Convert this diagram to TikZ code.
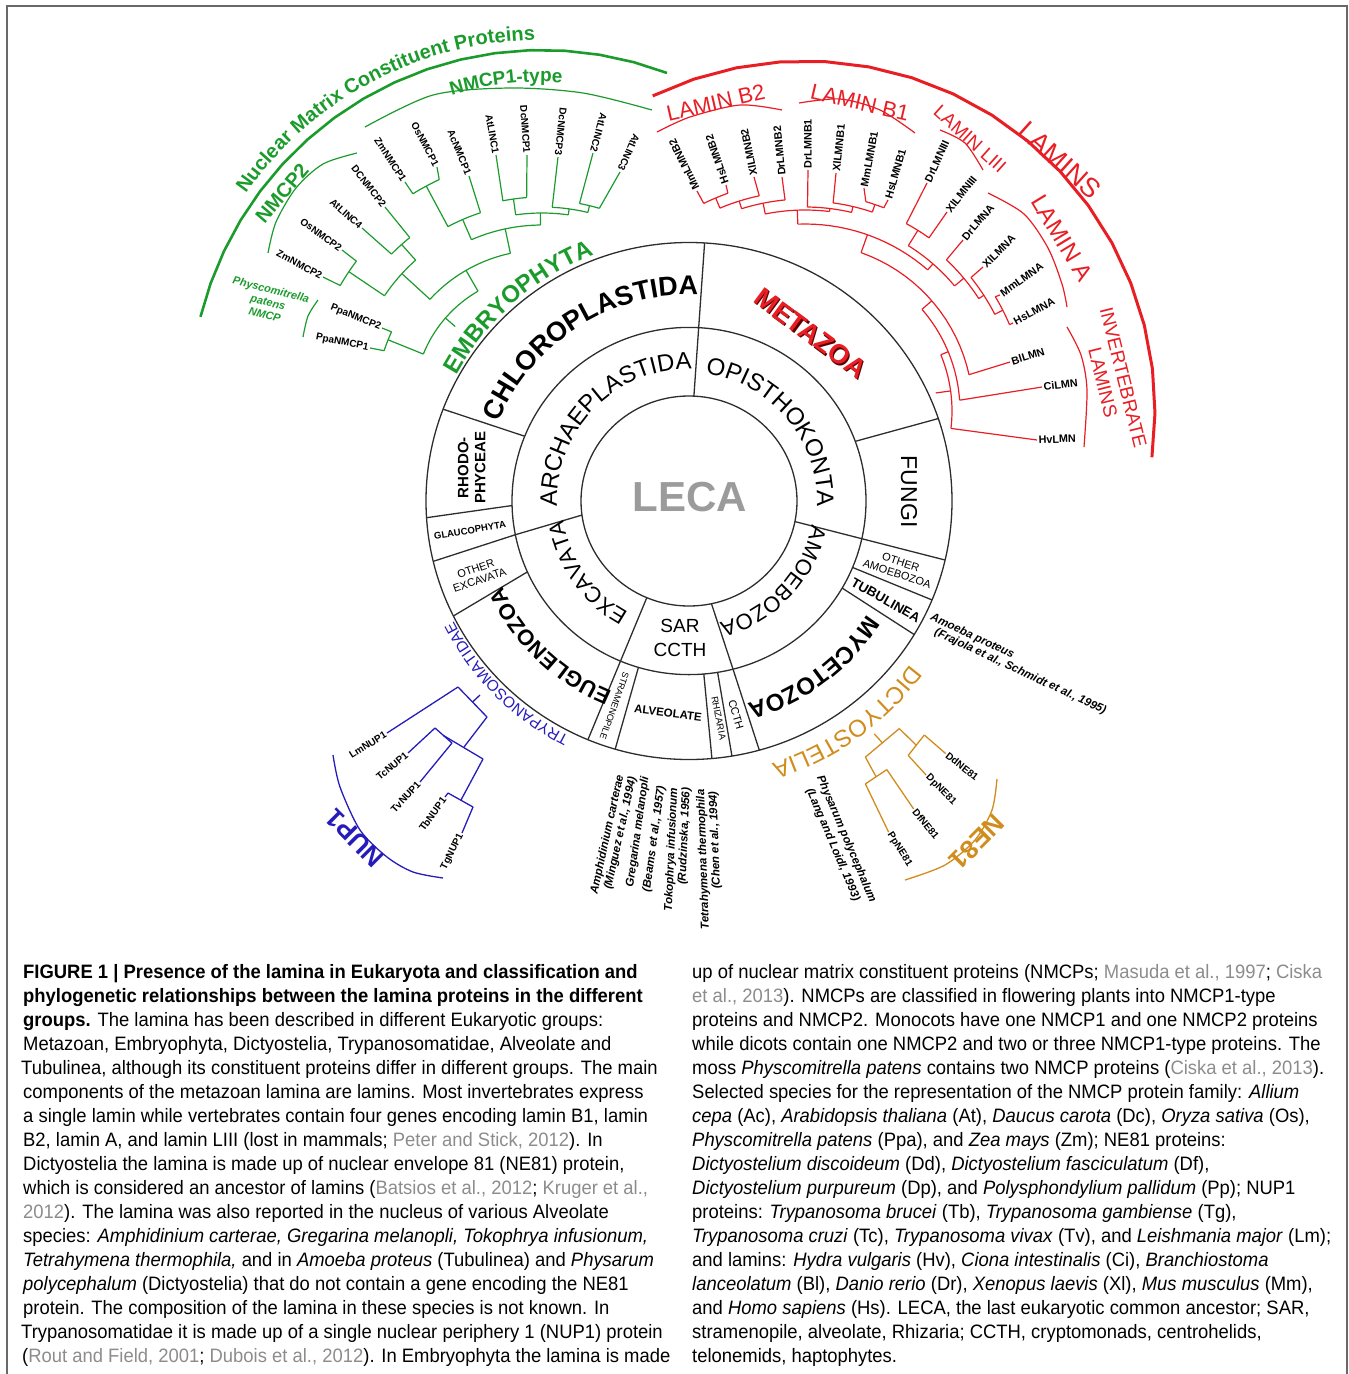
\documentclass[tikz,border=0pt]{standalone}
\usepackage{fontspec}
\setmainfont{Liberation Sans}
\newfontfamily\capfont[FakeStretch=0.95]{Liberation Sans}
\usetikzlibrary{decorations.text}
\definecolor{cg}{RGB}{28,155,45}
\definecolor{cr}{RGB}{232,30,36}
\definecolor{cb}{RGB}{38,28,185}
\definecolor{co}{RGB}{208,140,28}
\definecolor{ringc}{RGB}{45,45,45}
\definecolor{citec}{RGB}{140,140,140}
\definecolor{lecac}{RGB}{155,155,155}
\definecolor{framec}{RGB}{105,105,105}
\definecolor{mzshadow}{RGB}{90,0,0}
\newcommand{\citeg}[1]{{\color{citec}#1}}
\newcommand{\myArc}[6]{\draw[#1] plot[domain=#5:#6,samples=18] ({#2+#4*cos(\x)},{#3+#4*sin(\x)});}
\newcommand{\myRad}[6]{\draw[#1] ({#2+#5*cos(#4)},{#3+#5*sin(#4)}) -- ({#2+#6*cos(#4)},{#3+#6*sin(#4)});}
\newcommand{\grnA}[3]{\myArc{gtr}{542}{402}{#1}{#2}{#3}}
\newcommand{\grnR}[3]{\myRad{gtr}{542}{402}{#1}{#2}{#3}}
\newcommand{\redA}[3]{\myArc{rtr}{805}{411}{#1}{#2}{#3}}
\newcommand{\redR}[3]{\myRad{rtr}{805}{411}{#1}{#2}{#3}}
\newcommand{\grnL}[7]{\draw[gtr] ({542+#2*cos(#1)},{402+#2*sin(#1)}) -- (#3,#4);
  \node[leaf,anchor=east,rotate=#5] (#6) at (#3,#4) {#7};}
\newcommand{\redLw}[7]{\draw[rtr] ({805+#2*cos(#1)},{411+#2*sin(#1)}) -- (#3,#4);
  \node[leaf,rleaf,anchor=west,rotate=#5] (#6) at (#3,#4) {#7};}
\newcommand{\arcText}[7]{\path[decorate,decoration={text along path,text align=center,text color=#6,text={#7}}] plot[domain=#4:#5,samples=120] ({#1+#3*cos(\x)},{#2+#3*sin(\x)});}
\newcommand{\ringA}[2]{\draw[ring] ({689+108*cos(#1)},{501+105*sin(#1)}) -- ({689+263*cos(#2)},{501+258.5*sin(#2)});}
\newcommand{\ringB}[2]{\draw[ring] ({689+177*cos(#1)},{501+173.6*sin(#1)}) -- ({689+263*cos(#2)},{501+258.5*sin(#2)});}
\newcommand{\ringC}[3]{\draw[ring] ({689+108*cos(#1)},{501+105*sin(#1)}) -- ({689+177*cos(#2)},{501+173.6*sin(#2)}) -- ({689+263*cos(#3)},{501+258.5*sin(#3)});}

\tikzset{
  ring/.style={draw=ringc,line width=1.3pt},
  gtr/.style={draw=cg,line width=1.2pt},
  rtr/.style={draw=cr,line width=1.2pt},
  btr/.style={draw=cb,line width=1.3pt},
  otr/.style={draw=co,line width=1.3pt},
  leaf/.style={font=\fontsize{10}{12}\selectfont\bfseries,inner sep=1.5pt},
  rleaf/.style={font=\fontsize{10.8}{12}\selectfont\bfseries},
  note/.style={font=\fontsize{11.5}{14.5}\selectfont\bfseries\itshape,inner sep=0pt},
  capl/.style={anchor=base west,inner sep=0pt,font=\capfont\fontsize{19.4}{23}\selectfont},
  lbl/.style={inner sep=0pt,align=center},
}

\begin{document}
\begin{tikzpicture}[x=1pt,y=-1pt]
\useasboundingbox (0,0) rectangle (1349,1374);
\draw[framec,line width=1.6pt] (7,1374) -- (7,6) -- (1347,6) -- (1347,1374);

% ---------------- rings ----------------
\draw[ring] (689,501) ellipse[x radius=108,y radius=105];
\draw[ring] (689,501) ellipse[x radius=177,y radius=173.6];
\draw[ring] (689,501) ellipse[x radius=263,y radius=258.5];
\ringA{-87.4}{-86.6}
\ringA{11.3}{13.2}
\ringC{78}{75.6}{74.5}
\ringA{113}{112.6}
\ringC{172.3}{168.8}{166.5}
\ringB{-158.1}{-159.2}
\ringB{178.5}{176.3}
\ringB{155.9}{153.6}
\ringB{106.6}{106.3}
\ringB{85.2}{85}
\ringB{80.7}{80.6}
\ringB{30.1}{31.1}
\ringB{22.5}{22.5}
\ringB{-20.1}{-18.6}

% ring labels
\node[lbl,text=lecac,font=\fontsize{42}{46}\selectfont\bfseries] (leca) at (689.6,497) {LECA};
\node[lbl,font=\fontsize{19}{24}\selectfont] (sar) at (680,638) {SAR\\CCTH};
\node[lbl,font=\fontsize{15}{17}\selectfont\bfseries,rotate=90] (rhodo) at (471.6,467.6) {RHODO-\\PHYCEAE};
\node[lbl,font=\fontsize{9.5}{11}\selectfont\bfseries,rotate=9.5] (glauco) at (470,530.5) {GLAUCOPHYTA};
\node[lbl,font=\fontsize{11}{12}\selectfont,rotate=19] (oexc) at (477.7,574.4) {OTHER\\EXCAVATA};
\node[lbl,font=\fontsize{11}{12}\selectfont,rotate=-18] (oamo) at (899,568) {OTHER\\AMOEBOZOA};
\node[lbl,font=\fontsize{13.3}{15}\selectfont\bfseries,rotate=-29.5] (tubu) at (885.8,600.2) {TUBULINEA};
\node[lbl,font=\fontsize{23}{26}\selectfont,rotate=-90] (fungi) at (909,491.7) {FUNGI};
\node[lbl,font=\fontsize{9}{10}\selectfont,rotate=-109.7] (stram) at (614.5,706) {STRAMENOPILE};
\node[lbl,font=\fontsize{11.5}{13}\selectfont\bfseries,rotate=-7] (alveo) at (668,713) {ALVEOLATE};
\node[lbl,font=\fontsize{9.4}{10}\selectfont,rotate=-79] (rhiz) at (718.7,718) {RHIZARIA};
\node[lbl,font=\fontsize{11}{12}\selectfont,rotate=-73.6] (ccth) at (736,714.7) {CCTH};
\node[lbl,text=mzshadow,font=\fontsize{27}{30}\selectfont\bfseries,rotate=-36.5] (metaS) at (812,334.6) {METAZOA};
\node[lbl,text=cr,font=\fontsize{27}{30}\selectfont\bfseries,rotate=-36.5] (meta) at (810.8,333.3) {METAZOA};

\arcText{689}{501}{206}{-190}{-55}{black}{|\fontsize{27}{30}\selectfont\bfseries|CHLOROPLASTIDA}
\arcText{689}{501}{132}{-200}{-71.4}{black}{|\fontsize{24}{28}\selectfont|ARCHAEPLASTIDA}
\arcText{689}{501}{128}{-100}{20}{black}{|\fontsize{24}{28}\selectfont|OPISTHOKONTA}
\arcText{689}{501}{127}{100}{190}{black}{|\fontsize{22}{26}\selectfont|EXCAVATA}
\arcText{689}{501}{125}{-5}{92}{black}{|\fontsize{22}{26}\selectfont|AMOEBOZOA}
\arcText{689}{501}{211}{15}{91.6}{black}{|\fontsize{24}{28}\selectfont\bfseries|MYCETOZOA}
\arcText{689}{501}{205}{95}{172.4}{black}{|\fontsize{22}{26}\selectfont\bfseries|EUGLENOZOA}
\arcText{689}{501}{264}{-175}{-87.6}{cg}{|\fontsize{24}{28}\selectfont\bfseries|EMBRYOPHYTA}
\arcText{689}{501}{264.5}{100}{169.8}{cb}{|\fontsize{15.5}{18}\selectfont|TRYPANOSOMATIDAE}
\arcText{689}{501}{275}{20}{89}{co}{|\fontsize{24}{28}\selectfont|DICTYOSTELIA}

% ---------------- green tree ----------------
\myArc{gtr,line width=2.6pt}{542}{402}{352}{-166}{-69.2}
\arcText{542}{402}{362}{-175}{-61}{cg}{|\fontsize{20}{24}\selectfont\bfseries|Nuclear Matrix Constituent Proteins}
\arcText{542}{402}{320}{-130}{-62.8}{cg}{|\fontsize{19}{23}\selectfont\bfseries|NMCP1-type}
\draw[gtr] plot[smooth] coordinates {(365,127) (433,95) (510,88) (583,93) (652,110)};
\draw[gtr] plot[smooth] coordinates {(268,253) (276,222) (296,188) (323,164) (357,153)};
\draw[gtr] plot[smooth] coordinates {(318,300) (308,316) (303,337)};
\node[lbl,text=cg,font=\fontsize{20}{24}\selectfont\bfseries,rotate=49.5] (nmcp2) at (282,193) {NMCP2};
\node[lbl,text=cg,font=\fontsize{11}{13}\selectfont\bfseries\itshape,rotate=-14] (physc) at (268,302) {Physcomitrella\\patens\\NMCP};

\grnA{128}{-158}{-120}
\grnR{-139}{115}{128}
\grnR{-158}{128}{166}
\grnA{166}{-162}{-155}
\grnL{-162}{166}{370}{348}{-11}{gPpa1}{PpaNMCP1}
\grnL{-155}{166}{382}{328}{-22}{gPpa2}{PpaNMCP2}
\grnR{-120}{128}{152}
\grnA{152}{-137.5}{-102}
\grnR{-137.5}{152}{190}
\grnA{190}{-146}{-131.7}
\grnR{-146}{190}{233}
\grnA{233}{-150}{-142.8}
\grnL{-150}{233}{323}{277}{-28}{gZm2}{ZmNMCP2}
\grnL{-142.8}{233}{342}{250}{-36}{gOs2}{OsNMCP2}
\grnR{-131.7}{190}{211}
\grnA{211}{-135.5}{-128.8}
\grnL{-135.5}{211}{362}{228}{-42}{gAt4}{AtLINC4}
\grnL{-128.8}{211}{385}{207}{-52}{gDc2}{DCNMCP2}
\grnR{-102}{152}{177}
\grnA{177}{-113.5}{-90.5}
\grnR{-113.5}{177}{199}
\grnA{199}{-118.2}{-108}
\grnL{-108}{199}{469}{176}{-68}{gAc1}{AcNMCP1}
\grnR{-118.2}{199}{245}
\grnA{245}{-121.8}{-114.8}
\grnL{-121.8}{245}{405}{182}{-57}{gZm1}{ZmNMCP1}
\grnL{-114.8}{245}{437}{167}{-62.5}{gOs1}{OsNMCP1}
\grnR{-90.5}{177}{189}
\grnA{189}{-98}{-82}
\grnR{-98}{189}{205}
\grnA{205}{-101}{-94.3}
\grnL{-101}{205}{496}{155}{-80}{gAt1}{AtLINC1}
\grnL{-94.3}{205}{527}{155}{-86}{gDc1}{DcNMCP1}
\grnR{-82}{189}{195}
\grnA{195}{-87}{-76.4}
\grnL{-87}{195}{558}{157}{-96}{gDc3}{DcNMCP3}
\grnR{-76.4}{195}{202}
\grnA{202}{-79.3}{-73.5}
\grnL{-79.3}{202}{593}{153}{-105}{gAt2}{AtLINC2}
\grnL{-73.5}{202}{620}{172}{-114}{gAt3}{AtLINC3}

% ---------------- red tree ----------------
\myArc{rtr,line width=3pt}{805}{411}{350}{-115.8}{7.6}
\draw[rtr] plot[smooth] coordinates {(657,132) (690,117) (740,105) (782,110)};
\draw[rtr] plot[smooth] coordinates {(799,103) (840,99) (880,110) (915,133)};
\draw[rtr] plot[smooth] coordinates {(940,130) (965,143) (983,170)};
\draw[rtr] plot[smooth] coordinates {(988,193) (1024,214) (1048,248) (1062,284) (1067,307)};
\draw[rtr] plot[smooth] coordinates {(1067,327) (1081,355) (1087,390) (1084,447)};
\node[lbl,text=cr,font=\fontsize{27}{30}\selectfont,rotate=-42] (lamins) at (1060,160) {LAMINS};
\node[lbl,text=cr,font=\fontsize{22}{26}\selectfont,rotate=12.8] (lb2) at (715.8,102.5) {LAMIN B2};
\node[lbl,text=cr,font=\fontsize{22}{26}\selectfont,rotate=-13] (lb1) at (860,102.5) {LAMIN B1};
\node[lbl,text=cr,font=\fontsize{19}{22}\selectfont,rotate=-42] (l3) at (970,139) {LAMIN LIII};
\node[lbl,text=cr,font=\fontsize{24}{28}\selectfont,rotate=-58.7] (la) at (1062,238) {LAMIN A};
\node[lbl,text=cr,font=\fontsize{19}{21}\selectfont,rotate=-76] (linv) at (1113,380) {INVERTEBRATE\\LAMINS};

% B2
\redA{231}{-116}{-109.5}
\redR{-112.75}{220}{231}
\redA{220}{-112.75}{-102}
\redR{-107.4}{212}{220}
\redA{212}{-107.4}{-95.4}
\redR{-101.4}{201}{212}
% B1
\redA{218}{-73.8}{-68.8}
\redR{-71.3}{210}{218}
\redA{210}{-82.3}{-71.3}
\redR{-76.8}{204}{210}
\redA{204}{-89.3}{-76.8}
\redR{-83}{201}{204}
\redA{201}{-101.4}{-83}
\redR{-92.2}{187}{201}
% LIII and A
\redA{213}{-61.6}{-54.4}
\redR{-58}{195}{213}
\redA{222}{-31}{-22.9}
\redR{-27}{213}{222}
\redA{213}{-38.8}{-27}
\redR{-32.9}{207}{213}
\redA{207}{-46.9}{-32.9}
\redR{-39.9}{195}{207}
\redA{195}{-58}{-39.9}
\redR{-49}{187}{195}
\redA{187}{-92.2}{-49}
\redR{-70.5}{168}{187}
% invertebrates
\redA{168}{-70.5}{-12.5}
\redR{-41}{155}{168}
\redA{155}{-41}{-4}
\redR{-22.5}{147}{155}
\redA{147}{-22.5}{6.8}
\redR{-7.85}{132}{147}
\redLw{-116}{231}{697}{191}{116}{rMmB2}{MmLMNB2}
\redLw{-109.5}{231}{726}{185}{109}{rHsB2}{HsLMNB2}
\redLw{-102}{220}{754}{177}{101.7}{rXlB2}{XlLMNB2}
\redLw{-95.4}{212}{782}{177}{95.5}{rDrB2}{DrLMNB2}
\redLw{-89.3}{204}{808}{170}{90}{rDrB1}{DrLMNB1}
\redLw{-82.3}{210}{836}{173}{84}{rXlB1}{XlLMNB1}
\redLw{-73.8}{218}{864}{188}{79.4}{rMmB1}{MmLMNB1}
\redLw{-68.8}{218}{888}{200}{73.8}{rHsB1}{HsLMNB1}
\redLw{-61.6}{213}{927}{183}{65.2}{rDrL3}{DrLMNIII}
\redLw{-54.4}{213}{947}{212}{51.6}{rXlL3}{XlLMNIII}
\redLw{-46.9}{207}{963}{240}{49.6}{rDrA}{DrLMNA}
\redLw{-38.8}{213}{983}{267}{45}{rXlA}{XlLMNA}
\redLw{-31}{222}{1000}{295}{35.3}{rMmA}{MmLMNA}
\redLw{-22.9}{222}{1013}{323}{28.4}{rHsA}{HsLMNA}
\redLw{-12.5}{168}{1010}{362}{17.5}{rBl}{BlLMN}
\redLw{-4}{155}{1042}{387}{7}{rCi}{CiLMN}
\redLw{6.8}{147}{1037}{440}{2}{rHv}{HvLMN}

% ---------------- blue tree ----------------
\draw[btr] (480,695) -- (472.5,702);
\draw[btr] (458,687) -- (487,717);
\draw[btr] (458,687) -- (387,733);
\draw[btr] (487,717) -- (464,747);
\draw[btr] (443.5,735.5) -- (483,759);
\draw[btr] (435,728) -- (452,743);
\draw[btr] (435,728) -- (408,753);
\draw[btr] (452,743) -- (420,782);
\draw[btr] (483,759) -- (461,800);
\draw[btr] (448,793) -- (473,807);
\draw[btr] (448,793) -- (445,797);
\draw[btr] (473,807) -- (462,833);
\node[leaf,anchor=east,rotate=31.8] (bLm) at (387,733) {LmNUP1};
\node[leaf,anchor=east,rotate=39.8] (bTc) at (408,753) {TcNUP1};
\node[leaf,anchor=east,rotate=46.7] (bTv) at (420,782) {TvNUP1};
\node[leaf,anchor=east,rotate=54] (bTb) at (445,797) {TbNUP1};
\node[leaf,anchor=east,rotate=63.4] (bTg) at (462,833) {TgNUP1};
\draw[btr] plot[smooth] coordinates {(333,755) (340,787) (360,830) (387,857) (413,872) (443,878)};
\node[lbl,text=cb,font=\fontsize{26}{30}\selectfont\bfseries,rotate=135] (nup1) at (355,838) {NUP1};

% ---------------- orange tree ----------------
\draw[otr] (882.4,742.9) -- (874.3,733.9);
\draw[otr] (865.4,757.1) -- (899.3,728.6);
\draw[otr] (899.3,728.6) -- (916.3,745.2);
\draw[otr] (924.3,735) -- (908.2,755.4);
\draw[otr] (924.3,735) -- (945.7,753.6);
\draw[otr] (908.2,755.4) -- (926.1,775);
\draw[otr] (865.4,757.1) -- (876.1,776.8);
\draw[otr] (886.8,769.6) -- (865.4,783.9);
\draw[otr] (886.8,769.6) -- (913.6,808.9);
\draw[otr] (865.4,783.9) -- (888.6,832.1);
\node[leaf,anchor=west,rotate=-38] (oDd) at (945.7,753.6) {DdNE81};
\node[leaf,anchor=west,rotate=-45] (oDp) at (926.1,775) {DpNE81};
\node[leaf,anchor=west,rotate=-51] (oDf) at (913.6,808.9) {DfNE81};
\node[leaf,anchor=west,rotate=-58] (oPp) at (888.6,832.1) {PpNE81};
\draw[otr] plot[smooth] coordinates {(997,779) (992,810) (975,840) (945,865) (905,880)};
\node[lbl,text=co,font=\fontsize{26}{30}\selectfont\bfseries,rotate=225] (ne81) at (977,842) {NE81};

% ---------------- notes ----------------
\node[note,anchor=west,rotate=-25] (amo1) at (931,617) {Amoeba proteus};
\node[note,anchor=west,rotate=-25] (amo2) at (935,632) {(Frajola et al., Schmidt et al., 1995)};
\node[note,anchor=east,rotate=77.5] (al1a) at (620.7,775) {Amphidinium carterae};
\node[note,anchor=east,rotate=77.5] (al1b) at (633.2,776.8) {(Minguez et al., 1994)};
\node[note,anchor=east,rotate=82] (al2a) at (645.7,776.8) {Gregarina melanopli};
\node[note,anchor=east,rotate=82] (al2b) at (661.8,785.7) {(Beams et al., 1957)};
\node[note,anchor=east,rotate=87.5] (al3a) at (674.3,787.5) {Tokophrya infusionum};
\node[note,anchor=east,rotate=87.5] (al3b) at (686.8,787.5) {(Rudzinska, 1956)};
\node[note,anchor=east,rotate=92] (al4a) at (701.1,789.3) {Tetrahymena thermophila};
\node[note,anchor=east,rotate=92] (al4b) at (713.6,791.1) {(Chen et al., 1994)};
\node[note,align=center,rotate=-67] (phys) at (839.5,842) {Physarum polycephalum\\(Lang and Loidl, 1993)};

% ---------------- caption ----------------
\node[capl] (cl1) at (23,978) {\bfseries FIGURE 1 | Presence of the lamina in Eukaryota and classification and};
\node[capl] (cl2) at (23,1002) {\bfseries phylogenetic relationships between the lamina proteins in the different};
\node[capl] (cl3) at (23,1026) {{\bfseries groups.} The lamina has been described in different Eukaryotic groups:};
\node[capl] (cl4) at (23,1050) {Metazoan, Embryophyta, Dictyostelia, Trypanosomatidae, Alveolate and};
\node[capl] (cl5) at (21,1074) {Tubulinea, although its constituent proteins differ in different groups. The main};
\node[capl] (cl6) at (23,1098) {components of the metazoan lamina are lamins. Most invertebrates express};
\node[capl] (cl7) at (23,1122) {a single lamin while vertebrates contain four genes encoding lamin B1, lamin};
\node[capl] (cl8) at (23,1146) {B2, lamin A, and lamin LIII (lost in mammals; \citeg{Peter and Stick, 2012}). In};
\node[capl] (cl9) at (23,1170) {Dictyostelia the lamina is made up of nuclear envelope 81 (NE81) protein,};
\node[capl] (cl10) at (23,1194) {which is considered an ancestor of lamins (\citeg{Batsios et al., 2012}; \citeg{Kruger et al.,}};
\node[capl] (cl11) at (23,1218) {\citeg{2012}). The lamina was also reported in the nucleus of various Alveolate};
\node[capl] (cl12) at (23,1242) {species: \textit{Amphidinium carterae, Gregarina melanopli, Tokophrya infusionum,}};
\node[capl] (cl13) at (23,1266) {\textit{Tetrahymena thermophila,} and in \textit{Amoeba proteus} (Tubulinea) and \textit{Physarum}};
\node[capl] (cl14) at (23,1290) {\textit{polycephalum} (Dictyostelia) that do not contain a gene encoding the NE81};
\node[capl] (cl15) at (23,1314) {protein. The composition of the lamina in these species is not known. In};
\node[capl] (cl16) at (21,1338) {Trypanosomatidae it is made up of a single nuclear periphery 1 (NUP1) protein};
\node[capl] (cl17) at (22,1362) {(\citeg{Rout and Field, 2001}; \citeg{Dubois et al., 2012}). In Embryophyta the lamina is made};

\node[capl] (cr1) at (692,978) {up of nuclear matrix constituent proteins (NMCPs; \citeg{Masuda et al., 1997}; \citeg{Ciska}};
\node[capl] (cr2) at (692,1002) {\citeg{et al., 2013}). NMCPs are classified in flowering plants into NMCP1-type};
\node[capl] (cr3) at (692,1026) {proteins and NMCP2. Monocots have one NMCP1 and one NMCP2 proteins};
\node[capl] (cr4) at (692,1050) {while dicots contain one NMCP2 and two or three NMCP1-type proteins. The};
\node[capl] (cr5) at (692,1074) {moss \textit{Physcomitrella patens} contains two NMCP proteins (\citeg{Ciska et al., 2013}).};
\node[capl] (cr6) at (692,1098) {Selected species for the representation of the NMCP protein family: \textit{Allium}};
\node[capl] (cr7) at (692,1122) {\textit{cepa} (Ac), \textit{Arabidopsis thaliana} (At), \textit{Daucus carota} (Dc), \textit{Oryza sativa} (Os),};
\node[capl] (cr8) at (692,1146) {\textit{Physcomitrella patens} (Ppa), and \textit{Zea mays} (Zm); NE81 proteins:};
\node[capl] (cr9) at (692,1170) {\textit{Dictyostelium discoideum} (Dd), \textit{Dictyostelium fasciculatum} (Df),};
\node[capl] (cr10) at (692,1194) {\textit{Dictyostelium purpureum} (Dp), and \textit{Polysphondylium pallidum} (Pp); NUP1};
\node[capl] (cr11) at (692,1218) {proteins: \textit{Trypanosoma brucei} (Tb), \textit{Trypanosoma gambiense} (Tg),};
\node[capl] (cr12) at (692,1242) {\textit{Trypanosoma cruzi} (Tc), \textit{Trypanosoma vivax} (Tv), and \textit{Leishmania major} (Lm);};
\node[capl] (cr13) at (692,1266) {and lamins: \textit{Hydra vulgaris} (Hv), \textit{Ciona intestinalis} (Ci), \textit{Branchiostoma}};
\node[capl] (cr14) at (692,1290) {\textit{lanceolatum} (Bl), \textit{Danio rerio} (Dr), \textit{Xenopus laevis} (Xl), \textit{Mus musculus} (Mm),};
\node[capl] (cr15) at (692,1314) {and \textit{Homo sapiens} (Hs). LECA, the last eukaryotic common ancestor; SAR,};
\node[capl] (cr16) at (692,1338) {stramenopile, alveolate, Rhizaria; CCTH, cryptomonads, centrohelids,};
\node[capl] (cr17) at (692,1362) {telonemids, haptophytes.};
\end{tikzpicture}
\end{document}
